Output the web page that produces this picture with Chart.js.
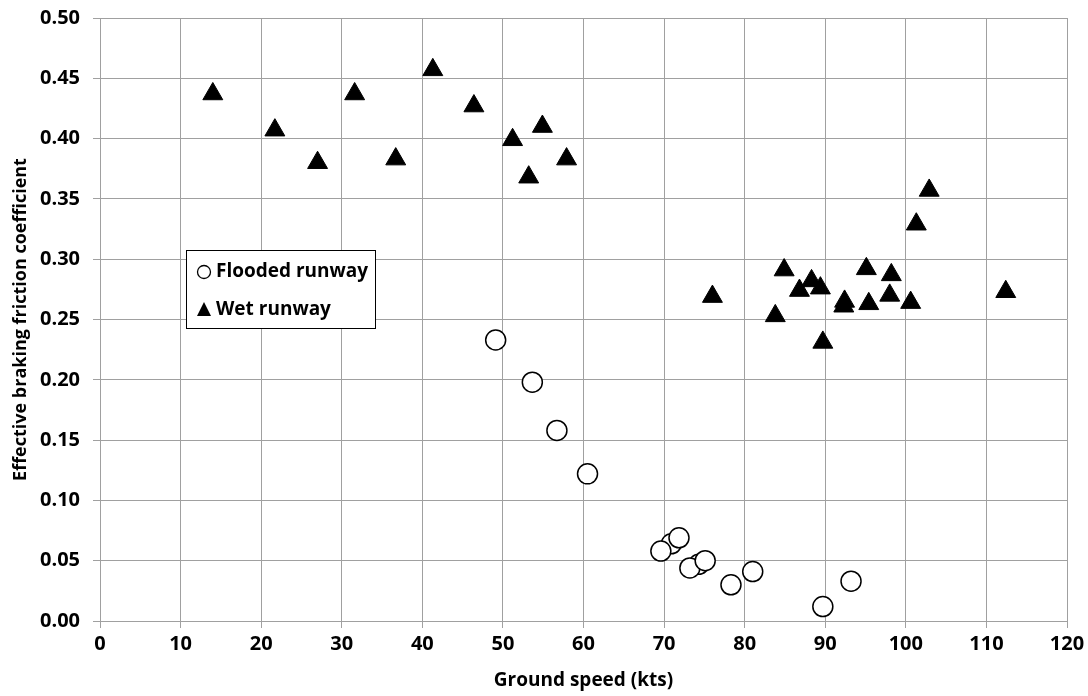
<!DOCTYPE html>
<html>
<head>
    <title>Effective braking friction vs ground speed</title>
    <script src="https://cdn.jsdelivr.net/npm/chart.js"></script>
    <style>
        html, body { margin: 0; padding: 0; background: #fff; }
        #wrap { width: 1088px; height: 696px; }
    </style>
</head>
<body>
    <div id="wrap"><canvas id="frictionChart" width="1088" height="696"></canvas></div>

    <script>
        // Flooded runway (open circles) - two hidden ones first so they sit behind
        const floodedX = [70.9, 74.3, 49.1, 53.65, 56.7, 60.5, 69.6, 71.85, 73.2, 75.1, 78.3, 81.0, 89.7, 93.2];
        const floodedY = [0.064, 0.047, 0.233, 0.198, 0.158, 0.122, 0.058, 0.069, 0.044, 0.050, 0.030, 0.041, 0.012, 0.033];

        // Wet runway (filled triangles)
        const wetX = [14.0, 21.7, 27.0, 31.6, 36.7, 41.3, 46.4, 51.2, 53.2, 54.9, 57.9,
                      76.0, 83.8, 84.9, 86.8, 88.3, 89.4, 89.7, 92.3, 92.4, 95.1, 95.4,
                      98.0, 98.2, 100.6, 101.3, 102.9, 112.4];
        const wetY = [0.437, 0.407, 0.380, 0.437, 0.383, 0.457, 0.427, 0.399, 0.368, 0.410, 0.383,
                      0.269, 0.253, 0.291, 0.274, 0.282, 0.276, 0.231, 0.261, 0.265, 0.292, 0.263,
                      0.270, 0.287, 0.264, 0.329, 0.357, 0.273];

        const seriesNames = ['Flooded runway', 'Wet runway'];
        const xTitle = 'Ground speed (kts)';
        const yTitle = 'Effective braking friction coefficient';

        const FONT = "'Open Sans', 'Liberation Sans', Arial, sans-serif";
        const gridGrey = '#a0a0a0';

        const toPoints = (xs, ys) => xs.map((x, i) => ({ x: x, y: ys[i] }));

        // legend box drawn inside the plot, like the original
        const boxLegend = {
            id: 'boxLegend',
            afterDraw(chart) {
                const ctx = chart.ctx;
                const bx = 186.5, by = 250.5, bw = 189, bh = 78;
                ctx.save();
                ctx.fillStyle = '#fff';
                ctx.fillRect(bx, by, bw, bh);
                ctx.strokeStyle = '#000';
                ctx.lineWidth = 1;
                ctx.strokeRect(bx, by, bw, bh);

                // circle marker
                ctx.beginPath();
                ctx.arc(204, 272, 6.5, 0, Math.PI * 2);
                ctx.fillStyle = '#fff';
                ctx.fill();
                ctx.lineWidth = 1.3;
                ctx.stroke();

                // triangle marker
                ctx.beginPath();
                ctx.moveTo(204, 302);
                ctx.lineTo(211, 316);
                ctx.lineTo(197, 316);
                ctx.closePath();
                ctx.fillStyle = '#000';
                ctx.fill();

                ctx.font = 'bold 19px ' + FONT;
                ctx.fillStyle = '#000';
                ctx.textAlign = 'left';
                ctx.textBaseline = 'middle';
                ctx.fillText(seriesNames[0], 216, 272);
                ctx.fillText(seriesNames[1], 216, 310);
                ctx.restore();
            }
        };

        const ctx = document.getElementById('frictionChart').getContext('2d');
        const chart = new Chart(ctx, {
            type: 'scatter',
            data: {
                datasets: [{
                    label: seriesNames[1],
                    data: toPoints(wetX, wetY),
                    pointStyle: 'triangle',
                    pointRadius: 11.5,
                    pointBackgroundColor: '#000',
                    pointBorderColor: '#000',
                    pointBorderWidth: 1
                }, {
                    label: seriesNames[0],
                    data: toPoints(floodedX, floodedY),
                    pointStyle: 'circle',
                    pointRadius: 10,
                    pointBackgroundColor: '#fff',
                    pointBorderColor: '#000',
                    pointBorderWidth: 1.5
                }]
            },
            options: {
                responsive: false,
                animation: false,
                events: [],
                layout: { padding: { top: 18, right: 21, left: 0, bottom: 0 } },
                plugins: {
                    legend: { display: false },
                    tooltip: { enabled: false }
                },
                scales: {
                    x: {
                        type: 'linear',
                        min: 0,
                        max: 120,
                        afterFit(scale) {
                            scale.height = 75;
                            scale.paddingLeft = 0;
                            scale.paddingRight = 0;
                        },
                        ticks: {
                            stepSize: 10,
                            padding: 4,
                            color: '#000',
                            font: { family: FONT, size: 20, weight: 'bold' }
                        },
                        grid: { color: gridGrey, lineWidth: 1, tickLength: 7, tickColor: gridGrey },
                        border: { color: gridGrey, width: 1 },
                        title: {
                            display: true,
                            text: xTitle,
                            color: '#000',
                            padding: { top: 0, bottom: 4 },
                            font: { family: FONT, size: 19, weight: 'bold' }
                        }
                    },
                    y: {
                        type: 'linear',
                        min: 0,
                        max: 0.5,
                        afterFit(scale) {
                            scale.width = 100;
                            scale.paddingTop = 0;
                            scale.paddingBottom = 0;
                        },
                        ticks: {
                            stepSize: 0.05,
                            padding: 13,
                            color: '#000',
                            font: { family: FONT, size: 20, weight: 'bold' },
                            callback: (v) => v.toFixed(2)
                        },
                        grid: { color: gridGrey, lineWidth: 1, tickLength: 7, tickColor: gridGrey },
                        border: { color: gridGrey, width: 1 },
                        title: {
                            display: true,
                            text: yTitle,
                            color: '#000',
                            padding: { top: 10, bottom: 0 },
                            font: { family: FONT, size: 18, weight: 'bold' }
                        }
                    }
                }
            },
            plugins: [boxLegend]
        });
    </script>
</body>
</html>
